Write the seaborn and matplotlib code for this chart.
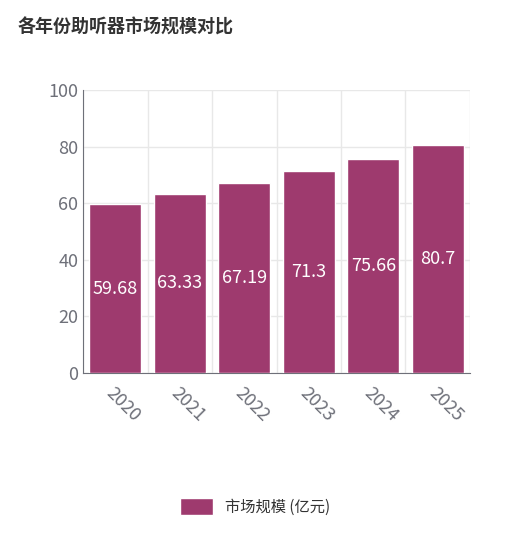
import matplotlib
matplotlib.use("Agg")
import matplotlib.pyplot as plt
import seaborn as sns
import pandas as pd

years = ["2020", "2021", "2022", "2023", "2024", "2025"]
values = [59.68, 63.33, 67.19, 71.3, 75.66, 80.7]
series_name = "市场规模 (亿元)"

sns.set_style("white")
plt.rcParams['font.family'] = ['Noto Sans CJK SC', 'DejaVu Sans']

df = pd.DataFrame({"year": years, "value": values})

fig = plt.figure(figsize=(5.1, 5.35), dpi=100)
ax = fig.add_axes([83 / 510, 1 - 373 / 535, 387 / 510, 283 / 535])
sns.barplot(data=df, x="year", y="value", color="#9e3a6e", width=0.8,
            saturation=1, ax=ax, label=series_name, zorder=3)

ax.set_ylim(0, 100)
ax.set_xlim(-0.5, 5.5)
ax.set_yticks(range(0, 101, 20))
ax.set_xticks([i - 0.5 for i in range(7)], minor=False)
ax.set_xticklabels([])
ax.set_xticks(range(6), minor=True)
ax.set_xticklabels(years, minor=True, rotation=-45, ha="left", va="top",
                   rotation_mode="anchor", fontsize=13, color="#6e7079")
ax.tick_params(axis="x", which="minor", length=0, pad=8)
ax.tick_params(axis="x", which="major", length=5, color="#6e7079")
ax.tick_params(axis="y", length=0, labelsize=13, labelcolor="#6e7079")
ax.grid(True, which="major", color="#e8e8e8", lw=1, zorder=0)
ax.set_xlabel("")
ax.set_ylabel("")
for s in ["top", "right"]:
    ax.spines[s].set_visible(False)
for s in ["left", "bottom"]:
    ax.spines[s].set_color("#6e7079")

for i, v in enumerate(values):
    ax.text(i, v / 2, f"{v:g}", ha="center", va="center", color="white",
            fontsize=13, zorder=4)

fig.text(18 / 510, 1 - 27 / 535, "各年份助听器市场规模对比", fontsize=13,
         fontweight="bold", color="#333333", va="center")
ax.legend(loc="center", bbox_to_anchor=(0.5, 1 - 507 / 535), bbox_transform=fig.transFigure,
          frameon=False, fontsize=11, handlelength=2.2, handleheight=1.3, labelcolor="#333333")

fig.savefig("out.png", dpi=100)
